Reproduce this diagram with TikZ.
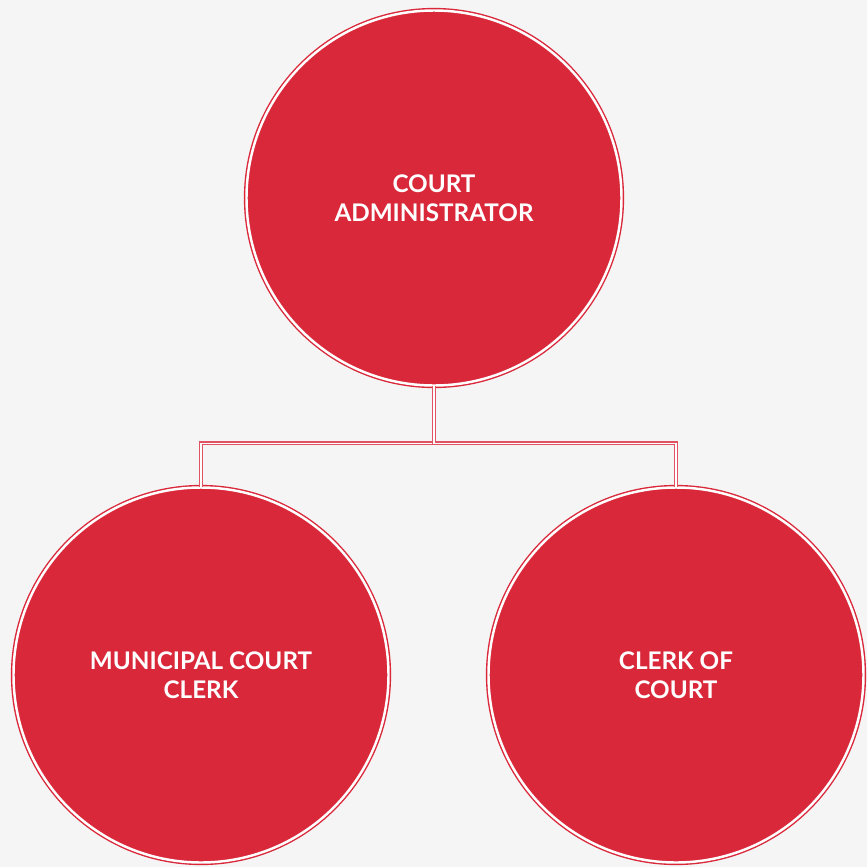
\documentclass[tikz,border=0pt]{standalone}
\usepackage{fontspec}
\setmainfont{Lato}
\usepackage{tikz}
\definecolor{courtred}{HTML}{DA283B}
\definecolor{paper}{HTML}{F5F5F5}

\begin{document}
\begin{tikzpicture}[
    office/.style={circle, fill=courtred, draw=courtred, double=white,
        double distance=1.4pt, line width=0.8pt, minimum size=7.5cm,
        text=white, align=center, font=\bfseries\fontsize{13.8}{16.5}\selectfont},
    link/.style={draw=courtred!80, double=white, double distance=0.8pt,
        line width=0.75pt}
    ]
    
    % canvas
    \fill[paper] (0,0) rectangle (17.34,-17.34);
    \useasboundingbox (0,0) rectangle (17.34,-17.34);
    
    \node[office] (admin) at (8.68,-3.96) {COURT\\ADMINISTRATOR};
    \node[office] (muni) at (4.02,-13.5) {MUNICIPAL COURT\\CLERK};
    \node[office] (clerk) at (13.52,-13.5) {CLERK OF\\COURT};
    
    \draw[link] (admin.south) -- ++(0,-1.14) -| (muni.north);
    \draw[link] (admin.south) -- ++(0,-1.14) -| (clerk.north);
    
\end{tikzpicture}
\end{document}
